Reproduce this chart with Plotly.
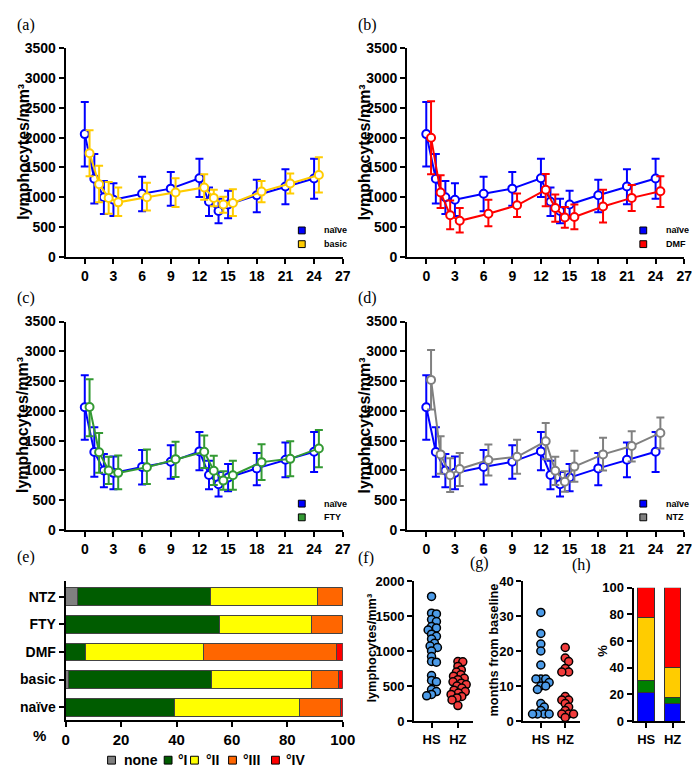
import plotly.graph_objects as go

# ---- data -------------------------------------------------------------
months = [0, 1, 2, 3, 6, 9, 12, 13, 14, 15, 18, 21, 24]

naive_mean = [2060, 1310, 1000, 960, 1060, 1145, 1320, 925, 770, 880, 1035, 1180, 1315]
naive_hi = [2600, 1725, 1275, 1235, 1345, 1425, 1645, 1165, 975, 1110, 1295, 1470, 1645]
naive_lo = [1515, 895, 720, 685, 765, 860, 1005, 685, 565, 650, 750, 885, 975]

basic_mean = [1740, 1220, 990, 915, 1000, 1080, 1165, 990, 880, 905, 1095, 1230, 1375]
basic_hi = [2125, 1530, 1255, 1165, 1245, 1320, 1385, 1125, 1010, 1135, 1275, 1400, 1670]
basic_lo = [1355, 915, 725, 685, 780, 835, 960, 850, 740, 685, 915, 1065, 1080]

dmf_mean = [2000, 1080, 700, 605, 725, 865, 1125, 820, 660, 670, 845, 990, 1100]
dmf_hi = [2610, 1370, 945, 820, 960, 1065, 1390, 1045, 835, 880, 1125, 1205, 1355]
dmf_lo = [1385, 820, 465, 410, 515, 670, 850, 590, 490, 465, 575, 770, 835]

fty_mean = [2065, 1305, 1000, 960, 1055, 1190, 1315, 995, 830, 920, 1140, 1195, 1370]
fty_hi = [2530, 1630, 1230, 1250, 1350, 1480, 1585, 1245, 985, 1165, 1440, 1490, 1680]
fty_lo = [1575, 960, 775, 685, 775, 890, 1040, 755, 675, 675, 840, 905, 1055]

ntz_mean = [2520, 1270, 920, 1025, 1175, 1230, 1490, 995, 810, 1065, 1270, 1410, 1630]
ntz_hi = [3020, 1575, 1205, 1295, 1435, 1515, 1795, 1230, 985, 1330, 1550, 1660, 1890]
ntz_lo = [2025, 945, 640, 740, 915, 945, 1190, 755, 645, 810, 1000, 1150, 1370]

# panel e: grade of lymphopenia (%)
groups = ["naïve", "basic", "DMF", "FTY", "NTZ"]
grade_none = [0, 1.2, 0, 0, 4.3]
grade_1 = [39.1, 51.3, 7.0, 55.5, 47.9]
grade_2 = [45.4, 36.3, 42.9, 33.3, 38.8]
grade_3 = [14.7, 9.8, 47.8, 11.2, 9.0]
grade_4 = [0.8, 1.4, 2.3, 0, 0]

# panels f, g
hs_lymph = [1780, 1540, 1530, 1450, 1420, 1350, 1330, 1300, 1240, 1210, 1170, 1110,
            1070, 1050, 1000, 920, 850, 840, 650, 580, 560, 450, 420, 380, 360]
hz_lymph = [850, 845, 780, 730, 700, 660, 640, 610, 590, 560, 540, 520, 500, 470,
            440, 420, 400, 380, 350, 330, 300, 220]
hs_months = [31, 25, 22, 20, 16, 12, 12, 12, 11, 10, 10, 9, 5, 4, 3, 2, 2, 2, 2]
hz_months = [21, 18, 17, 15, 14, 14, 7, 6, 6, 5, 4, 3, 2, 2, 2, 1]

# panel h
zoster = ["HS", "HZ"]
h_blue = [21.7, 13.3]
h_green = [8.4, 4.7]
h_yellow = [47.7, 22.2]
h_red = [22.2, 59.8]

# ---- helpers ----------------------------------------------------------
W, H = 700, 768
FONT = "Liberation Sans, Arial, sans-serif"
SERIF = "Liberation Serif, Times New Roman, serif"
BLUE = "#0000FF"


def px(x):
    return x / W


def py(y):
    return 1 - y / H


def bold(vals):
    return ["<b>%s</b>" % v for v in vals]


def axis_style(vals, size=14, **kw):
    d = dict(showline=True, linewidth=2, linecolor="black", ticks="outside",
             ticklen=5, tickwidth=2, tickcolor="black", showgrid=False,
             zeroline=False, tickvals=vals, ticktext=bold(vals),
             tickfont=dict(family=FONT, size=size, color="black"))
    d.update(kw)
    return d


def add_series(x, mean, lo, hi, color, xa, ya):
    fig.add_trace(go.Scatter(
        x=x, y=mean, mode="lines+markers", xaxis=xa, yaxis=ya, showlegend=False,
        line=dict(color=color, width=2),
        marker=dict(symbol="circle", size=8, color="white", line=dict(color=color, width=2)),
        error_y=dict(type="data", symmetric=False,
                     array=[h - m for h, m in zip(hi, mean)],
                     arrayminus=[m - l for m, l in zip(mean, lo)],
                     color=color, thickness=2, width=4),
    ))


def swarm(values, y_scale, x_scale, gap):
    # simple beeswarm: offsets in data units so markers do not pile up
    order = sorted(range(len(values)), key=lambda i: -values[i])
    placed = []
    offs = [0.0] * len(values)
    for i in order:
        y = values[i] * y_scale
        best = None
        for k in range(200):
            for sgn in (1, -1):
                dx = sgn * k * 0.5
                if all((dx - a) ** 2 + (y - b) ** 2 >= gap ** 2 for a, b in placed):
                    best = dx
                    break
            if best is not None:
                break
        placed.append((best, y))
        offs[i] = best / x_scale
    return offs


fig = go.Figure()
annotations = []
shapes = []


def legend_item(x_sq, y, color, text, size=9, sq=7, x_text=None):
    shapes.append(dict(type="rect", xref="paper", yref="paper",
                       x0=px(x_sq - sq / 2), x1=px(x_sq + sq / 2),
                       y0=py(y + sq / 2), y1=py(y - sq / 2),
                       fillcolor=color, line=dict(color="black", width=1)))
    annotations.append(dict(x=px(x_text), y=py(y), xref="paper", yref="paper",
                            text="<b>%s</b>" % text, showarrow=False, xanchor="left",
                            yanchor="middle", font=dict(family=FONT, size=size, color="black")))


def label(x, y, text):
    annotations.append(dict(x=px(x), y=py(y), xref="paper", yref="paper", text=text,
                            showarrow=False, xanchor="left", yanchor="middle",
                            font=dict(family=SERIF, size=16, color="black")))


def ytitle(x, y, text, size):
    annotations.append(dict(x=px(x), y=py(y), xref="paper", yref="paper",
                            text="<b>%s</b>" % text, showarrow=False, textangle=-90,
                            xanchor="center", yanchor="middle",
                            font=dict(family=FONT, size=size, color="black")))


# ---- panels a-d -------------------------------------------------------
shifted = [m + 0.5 for m in months]
line_panels = [
    ("x", "y", 0, 0, basic_mean, basic_lo, basic_hi, "#FFCC00", "basic", "(a)"),
    ("x2", "y2", 350, 0, dmf_mean, dmf_lo, dmf_hi, "#FF0000", "DMF", "(b)"),
    ("x3", "y3", 0, 279, fty_mean, fty_lo, fty_hi, "#339933", "FTY", "(c)"),
    ("x4", "y4", 350, 279, ntz_mean, ntz_lo, ntz_hi, "#808080", "NTZ", "(d)"),
]
layout_axes = {}
for i, (xa, ya, ox, oy, mean, lo, hi, color, name, lab) in enumerate(line_panels):
    add_series(months, naive_mean, naive_lo, naive_hi, BLUE, xa, ya)
    add_series(shifted, mean, lo, hi, color, xa, ya)
    n = "" if i == 0 else str(i + 1)
    layout_axes["xaxis" + n] = axis_style(
        list(range(0, 28, 3)), domain=[px(55 + ox), px(339 + ox)], range=[-2, 27], anchor=ya)
    layout_axes["yaxis" + n] = axis_style(
        list(range(0, 3501, 500)), domain=[py(246 + oy), py(33 + oy)], range=[0, 3500], anchor=xa)
    legend_item(297 + ox, 219 + oy, BLUE, "naïve", x_text=318 + ox)
    legend_item(297 + ox, 233 + oy, color, name, x_text=318 + ox)
    label(3 + ox, 9 + oy, lab)
    ytitle(11 + ox, 139 + oy, "lymphocytes/mm³", 16)

# ---- panel e ----------------------------------------------------------
e_parts = [
    (grade_none, "#808080", "none"),
    (grade_1, "#005C00", "°I"),
    (grade_2, "#FFFF00", "°II"),
    (grade_3, "#FF6600", "°III"),
    (grade_4, "#FF0000", "°IV"),
]
for vals, color, name in e_parts:
    fig.add_trace(go.Bar(y=groups, x=vals, orientation="h", width=0.65, xaxis="x5", yaxis="y5",
                         marker=dict(color=color, line=dict(color="#444444", width=1)),
                         showlegend=False))
layout_axes["xaxis5"] = axis_style(list(range(0, 101, 20)), size=15,
                                   domain=[px(55), px(339)], range=[0, 100], anchor="y5")
layout_axes["yaxis5"] = axis_style(groups, size=14, domain=[py(719), py(577)],
                                   range=[-0.47, 4.58], anchor="x5", type="category")
annotations.append(dict(x=px(28), y=py(735), xref="paper", yref="paper", text="<b>%</b>",
                        showarrow=False, xanchor="center", yanchor="middle",
                        font=dict(family=FONT, size=15, color="black")))
e_leg = [(102, 113), (160, 168), (187, 197), (226, 235), (270, 279)]
for (xs, xt), (vals, color, name) in zip(e_leg, e_parts):
    legend_item(xs, 760, color, name, size=14, sq=8, x_text=xt)
label(3, 552, "(e)")

# ---- panels f, g ------------------------------------------------------
HS_C, HZ_C = "#4C9BE8", "#F23C3C"
scatter_panels = [
    ("x6", "y6", hs_lymph, hz_lymph, 143 / 2000, 27, 412, 472, [0, 2000], 500),
    ("x7", "y7", hs_months, hz_months, 143 / 40, 25, 524, 582, [0, 40], 10),
]
for j, (xa, ya, hs, hz, ysc, xsc, x0, x1, yr, dt) in enumerate(scatter_panels):
    for k, (vals, color) in enumerate([(hs, HS_C), (hz, HZ_C)]):
        offs = swarm(vals, ysc, xsc, 5.0)
        fig.add_trace(go.Scatter(
            x=[k + o for o in offs], y=vals, mode="markers", xaxis=xa, yaxis=ya,
            showlegend=False, cliponaxis=False,
            marker=dict(size=8, color=color, line=dict(color="black", width=1.5))))
    layout_axes["xaxis" + xa[1:]] = axis_style(
        [0, 1], size=13, ticktext=bold(zoster),
        domain=[px(x0), px(x1)], range=[-18 / xsc, -18 / xsc + (x1 - x0) / xsc], anchor=ya)
    layout_axes["yaxis" + ya[1:]] = axis_style(
        list(range(yr[0], yr[1] + 1, dt)), size=13,
        domain=[py(720), py(577)], range=yr, anchor=xa)
ytitle(369, 646, "lymphocytes/mm³", 12.8)
ytitle(493, 648, "months from baseline", 12.8)
label(353, 554, "(f)")
label(467, 559, "(g)")

# ---- panel h ----------------------------------------------------------
for vals, color in [(h_blue, "#0000FF"), (h_green, "#008000"), (h_yellow, "#FFCC00"), (h_red, "#FF0000")]:
    fig.add_trace(go.Bar(x=zoster, y=vals, width=0.63, xaxis="x8", yaxis="y8", showlegend=False,
                         marker=dict(color=color, line=dict(color="#333333", width=1))))
layout_axes["xaxis8"] = axis_style(zoster, size=13, domain=[px(637), px(690)],
                                   range=[-0.48, 1.48], anchor="y8", type="category")
layout_axes["yaxis8"] = axis_style(list(range(0, 101, 20)), size=13,
                                   domain=[py(720), py(584)], range=[0, 100], anchor="x8")
ytitle(605, 648, "%", 13)
label(572, 561, "(h)")

fig.update_layout(
    width=W, height=H, margin=dict(l=0, r=0, t=0, b=0),
    paper_bgcolor="white", plot_bgcolor="white",
    barmode="stack", bargap=0.3, showlegend=False,
    annotations=annotations, shapes=shapes,
    **layout_axes,
)

fig.write_html("out.html")
